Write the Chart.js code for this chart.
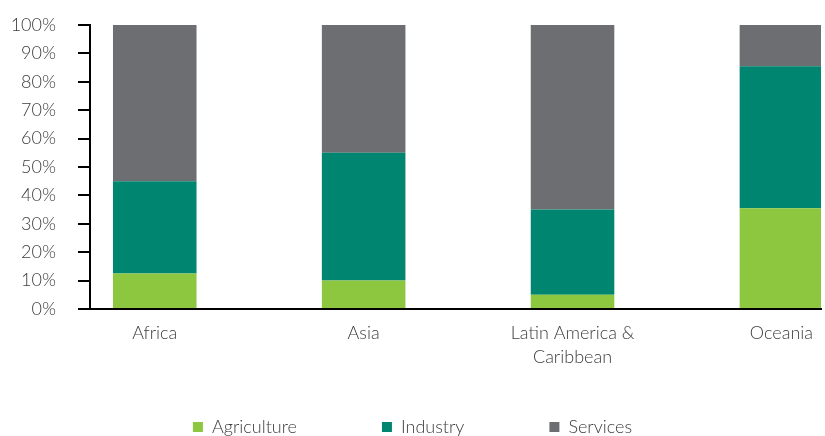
<!DOCTYPE html>
<html>
<head>
<meta charset="utf-8">
<script src="https://cdn.jsdelivr.net/npm/chart.js@4.4.1/dist/chart.umd.min.js"></script>
<style>
  html, body { margin: 0; padding: 0; background: #fff; overflow: hidden; }
  #wrap { position: relative; width: 825px; height: 492px; }
</style>
</head>
<body>
<div id="wrap"><canvas id="sectors"></canvas></div>
<script>
const regions = ['Africa', 'Asia', ['Latin America &', 'Caribbean'], 'Oceania'];
const agriculture = [12.5, 10, 5, 35.5];
const industry = [32.5, 45, 30, 50];
const services = [55, 45, 65, 14.5];

const colors = {
  agriculture: '#8dc63f',
  industry: '#008571',
  services: '#6d6e71'
};

Chart.defaults.font.family = 'Lato';
Chart.defaults.font.weight = 300;
Chart.defaults.font.size = 18;
Chart.defaults.color = '#3c3c3c';

// regions sit at x = 0..3 on a linear axis so the plot can start left of the first bar
const toPoints = (values) => values.map((v, i) => ({ x: i, y: v }));

const data = {
  datasets: [
    { label: 'Agriculture', data: toPoints(agriculture), backgroundColor: colors.agriculture },
    { label: 'Industry', data: toPoints(industry), backgroundColor: colors.industry },
    { label: 'Services', data: toPoints(services), backgroundColor: colors.services }
  ]
};

// the wide legend padding also pushes the legend down, so pull it back up under the axis labels
const legendLift = {
  id: 'legendLift',
  afterLayout(chart) {
    const legend = chart.legend;
    const shift = legend.top - (chart.chartArea.bottom + 24);
    legend.top -= shift;
    legend.bottom -= shift;
  }
};

const config = {
  type: 'bar',
  data: data,
  plugins: [legendLift],
  options: {
    responsive: true,
    maintainAspectRatio: false,
    animation: false,
    barPercentage: 0.4,
    categoryPercentage: 1,
    layout: {
      padding: { top: 25, left: 0, right: 0, bottom: 0 }
    },
    scales: {
      x: {
        type: 'linear',
        stacked: true,
        offset: false,
        min: -0.31,
        max: 3.19,
        grid: { display: false, drawTicks: false },
        border: { display: true, color: '#000', width: 2 },
        ticks: {
          stepSize: 1,
          includeBounds: false,
          autoSkip: false,
          maxRotation: 0,
          padding: 12,
          font: { lineHeight: 1.33 },
          callback: (v) => (Number.isInteger(v) && regions[v] !== undefined) ? regions[v] : ''
        },
        afterFit: (scale) => { scale.height = 70; }
      },
      y: {
        stacked: true,
        min: 0,
        max: 100,
        grid: {
          display: true,
          drawOnChartArea: false,
          tickLength: 12,
          color: '#000',
          lineWidth: 2
        },
        border: { display: true, color: '#000', width: 2 },
        ticks: {
          stepSize: 10,
          padding: 22,
          callback: (v) => v + '%'
        },
        afterFit: (scale) => {
          scale.width = 90;
          // labels only need half their height above the top tick
          scale.paddingTop = 11;
          scale.paddingBottom = 11;
        }
      }
    },
    plugins: {
      legend: {
        position: 'bottom',
        labels: {
          boxWidth: 10,
          boxHeight: 10,
          padding: 85
        }
      },
      tooltip: { enabled: false }
    }
  }
};

new Chart(document.getElementById('sectors'), config);
</script>
</body>
</html>
